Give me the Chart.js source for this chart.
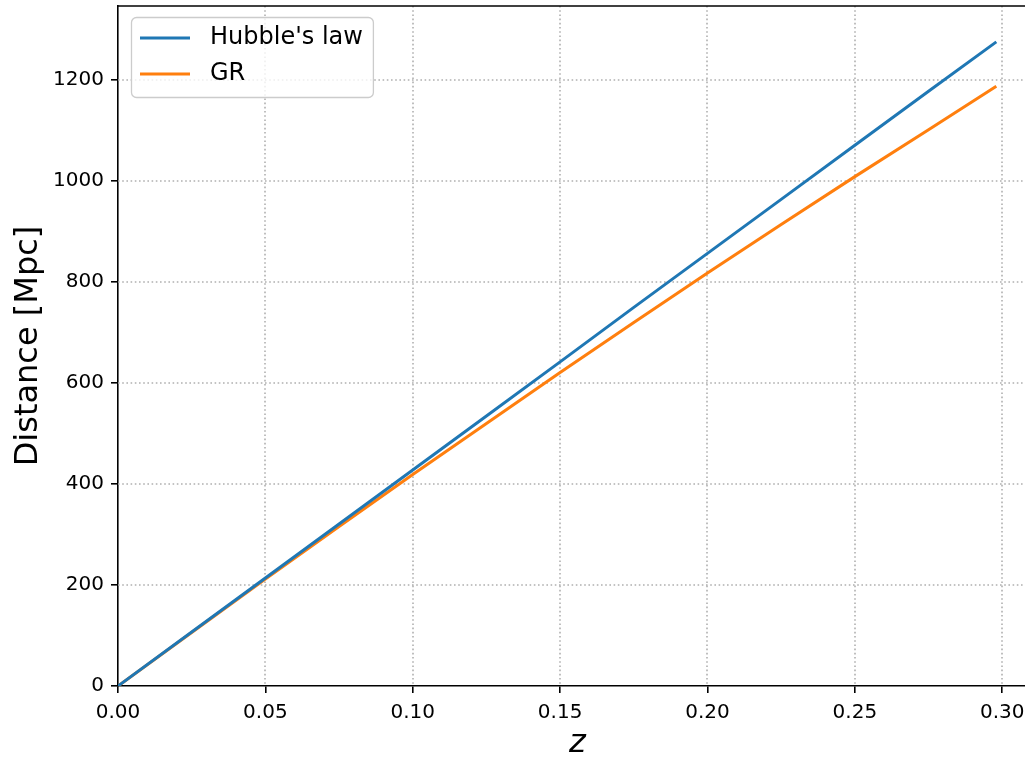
<!DOCTYPE html>
<html>
<head>
<meta charset="utf-8">
<script src="https://cdn.jsdelivr.net/npm/chart.js@4.4.1/dist/chart.umd.min.js"></script>
<style>
  html, body { margin: 0; padding: 0; background: #fff; overflow: hidden; }
  canvas { display: block; }
</style>
</head>
<body>
<canvas id="distanceChart" width="1045" height="760"></canvas>
<script>
// redshift samples and distances (Mpc)
const zValues = [0, 0.025, 0.05, 0.075, 0.1, 0.125, 0.15, 0.175, 0.2, 0.225, 0.25, 0.275, 0.298];
const hubbleDist = [0, 107, 214, 321, 428, 535, 642, 750, 857, 964, 1071, 1178, 1276];
const grDist = [0, 106, 212, 316, 419, 520, 621, 720, 818, 914, 1009, 1102, 1188];

const seriesLabels = ["Hubble's law", 'GR'];
const seriesColors = ['#1f77b4', '#ff7f0e'];

const xTicks = [0, 0.05, 0.10, 0.15, 0.20, 0.25, 0.30];
const yTicks = [0, 200, 400, 600, 800, 1000, 1200];

const FONT = 'DejaVu Sans';

const toPoints = (ys) => zValues.map((z, i) => ({ x: z, y: ys[i] }));

// dotted grid like matplotlib ':' style
const gridPlugin = {
    id: 'dottedGrid',
    beforeDatasetsDraw(chart) {
        const { ctx, chartArea, scales } = chart;
        ctx.save();
        ctx.strokeStyle = '#b0b0b0';
        ctx.lineWidth = 1.6;
        ctx.setLineDash([1.6, 2.6]);
        scales.x.ticks.forEach(t => {
            if (t.value === 0) return; // sits under the spine
            const px = Math.round(scales.x.getPixelForValue(t.value));
            ctx.beginPath();
            ctx.moveTo(px, chartArea.top);
            ctx.lineTo(px, chartArea.bottom);
            ctx.stroke();
        });
        scales.y.ticks.forEach(t => {
            if (t.value === 0) return;
            const py = Math.round(scales.y.getPixelForValue(t.value));
            ctx.beginPath();
            ctx.moveTo(chartArea.left, py);
            ctx.lineTo(chartArea.right, py);
            ctx.stroke();
        });
        ctx.restore();
    },
    afterDatasetsDraw(chart) {
        const { ctx, chartArea } = chart;
        // top spine (right spine falls outside the window)
        ctx.save();
        ctx.strokeStyle = '#000';
        ctx.lineWidth = 1.6;
        ctx.beginPath();
        ctx.moveTo(chartArea.left, chartArea.top);
        ctx.lineTo(chartArea.right, chartArea.top);
        ctx.stroke();
        ctx.restore();
    }
};

// legend inside the axes, upper left
const insideLegend = {
    id: 'insideLegend',
    afterDraw(chart) {
        const { ctx, chartArea } = chart;
        const fontSize = 24;
        const pad = 10, handle = 50, gap = 19, rowH = 36;
        ctx.save();
        ctx.font = fontSize + 'px "' + FONT + '"';
        const textW = Math.max(...chart.data.datasets.map(d => ctx.measureText(d.label).width));
        const x0 = chartArea.left + 13;
        const y0 = chartArea.top + 11;
        const w = pad + handle + gap + textW + pad;
        const h = 80;
        ctx.beginPath();
        ctx.roundRect(x0 + 0.5, y0 + 0.5, w, h, 5);
        ctx.fillStyle = 'rgba(255,255,255,0.8)';
        ctx.fill();
        ctx.strokeStyle = '#cccccc';
        ctx.lineWidth = 1.3;
        ctx.stroke();
        chart.data.datasets.forEach((d, i) => {
            const cy = y0 + 21 + i * rowH;
            ctx.strokeStyle = d.borderColor;
            ctx.lineWidth = 3;
            ctx.beginPath();
            ctx.moveTo(x0 + 9, cy);
            ctx.lineTo(x0 + 9 + handle, cy);
            ctx.stroke();
            ctx.fillStyle = '#000';
            ctx.textBaseline = 'middle';
            ctx.textAlign = 'left';
            ctx.fillText(d.label, x0 + pad + handle + gap, cy);
        });
        ctx.restore();
    }
};

new Chart(document.getElementById('distanceChart'), {
    type: 'line',
    data: {
        datasets: [
            {
                label: seriesLabels[0],
                data: toPoints(hubbleDist),
                borderColor: seriesColors[0],
                backgroundColor: seriesColors[0],
                borderWidth: 3,
                pointRadius: 0,
                tension: 0
            },
            {
                label: seriesLabels[1],
                data: toPoints(grDist),
                borderColor: seriesColors[1],
                backgroundColor: seriesColors[1],
                borderWidth: 3,
                pointRadius: 0,
                tension: 0
            }
        ]
    },
    options: {
        responsive: false,
        animation: false,
        devicePixelRatio: 1,
        layout: { padding: { top: 6, right: 8, left: 0, bottom: 0 } },
        plugins: {
            legend: { display: false },
            tooltip: { enabled: false }
        },
        scales: {
            x: {
                type: 'linear',
                min: 0,
                max: 0.3118,
                afterBuildTicks: (scale) => { scale.ticks = xTicks.map(v => ({ value: v })); },
                afterFit: (scale) => { scale.height = 74; scale.paddingLeft = 0; scale.paddingRight = 0; },
                ticks: {
                    color: '#000',
                    font: { family: FONT, size: 20 },
                    padding: 8,
                    maxRotation: 0,
                    autoSkip: false,
                    callback: (v) => Number(v).toFixed(2)
                },
                grid: {
                    drawOnChartArea: false,
                    color: '#000',
                    tickColor: '#000',
                    tickLength: 7,
                    lineWidth: 1.6
                },
                border: { color: '#000', width: 1.6 },
                title: {
                    display: true,
                    text: 'z',
                    color: '#000',
                    font: { family: FONT, size: 32, style: 'italic' },
                    padding: { top: 0, bottom: -3 }
                }
            },
            y: {
                type: 'linear',
                min: 0,
                max: 1347,
                afterBuildTicks: (scale) => { scale.ticks = yTicks.map(v => ({ value: v })); },
                afterFit: (scale) => { scale.width = 118; scale.paddingTop = 0; scale.paddingBottom = 0; },
                ticks: {
                    color: '#000',
                    font: { family: FONT, size: 20 },
                    padding: 7,
                    autoSkip: false,
                    callback: (v) => String(v)
                },
                grid: {
                    drawOnChartArea: false,
                    color: '#000',
                    tickColor: '#000',
                    tickLength: 7,
                    lineWidth: 1.6
                },
                border: { color: '#000', width: 1.6 },
                title: {
                    display: true,
                    text: 'Distance [Mpc]',
                    color: '#000',
                    font: { family: FONT, size: 32 },
                    padding: { top: 9, bottom: 0 }
                }
            }
        }
    },
    plugins: [gridPlugin, insideLegend]
});
</script>
</body>
</html>
